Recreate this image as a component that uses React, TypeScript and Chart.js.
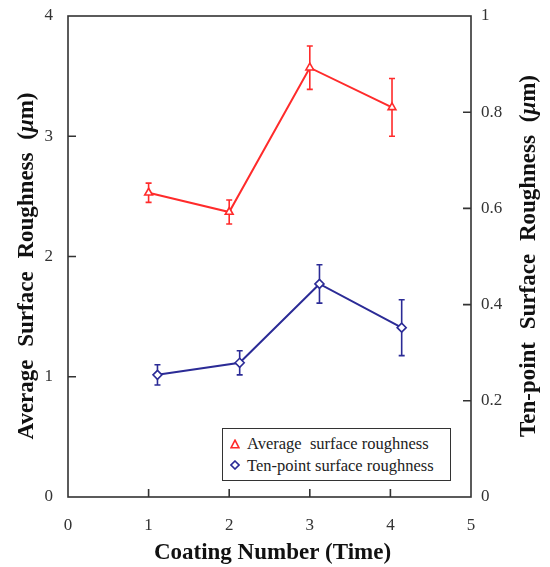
import React, { useEffect, useRef } from "react";
import { Chart, registerables } from "chart.js";

Chart.register(...registerables);

// ---- data ----
const avgX = [1.0, 2.0, 3.0, 4.02];
const avgY = [2.53, 2.37, 3.57, 3.24];
const avgErr = [0.08, 0.1, 0.18, 0.24];

const tenX = [1.11, 2.13, 3.12, 4.14];
const tenY = [0.254, 0.279, 0.443, 0.352];
const tenErr = [0.021, 0.025, 0.04, 0.058];

const seriesLabels = ["Average  surface roughness", "Ten-point surface roughness"];
const xTitle = "Coating Number (Time)";
const leftTitle = ["Average Surface Roughness (", "\u03BC", "m)"];
const rightTitle = ["Ten-point Surface Roughness (", "\u03BC", "m)"];

const RED = "#ff2b2b";
const BLUE = "#2b2b96";
const AXIS = "#333333";
const FONT = "'Liberation Serif', 'DejaVu Serif', serif";

const errorBarPlugin = {
  id: "errorBars",
  beforeDatasetsDraw(chart: any) {
    const { ctx } = chart;
    chart.data.datasets.forEach((ds: any) => {
      const ys = chart.scales[ds.yAxisID];
      const xs = chart.scales.x;
      ctx.save();
      ctx.strokeStyle = ds.borderColor;
      ctx.lineWidth = 1.6;
      ds.data.forEach((p: any, j: number) => {
        const e = ds.errors[j];
        const px = xs.getPixelForValue(p.x);
        const top = ys.getPixelForValue(p.y + e);
        const bot = ys.getPixelForValue(p.y - e);
        const c = 3;
        ctx.beginPath();
        ctx.moveTo(px, top);
        ctx.lineTo(px, bot);
        ctx.moveTo(px - c, top);
        ctx.lineTo(px + c, top);
        ctx.moveTo(px - c, bot);
        ctx.lineTo(px + c, bot);
        ctx.stroke();
      });
      ctx.restore();
    });
  },
};

const framePlugin = {
  id: "frame",
  afterDraw(chart: any) {
    const { ctx, chartArea: a, scales } = chart;
    ctx.save();
    ctx.strokeStyle = AXIS;
    ctx.lineWidth = 1.6;
    ctx.strokeRect(a.left, a.top, a.right - a.left, a.bottom - a.top);
    const L = 8;
    ctx.beginPath();
    scales.x.ticks.forEach((t: any) => {
      if (t.value <= scales.x.min || t.value >= scales.x.max) return;
      const px = scales.x.getPixelForValue(t.value);
      ctx.moveTo(px, a.bottom);
      ctx.lineTo(px, a.bottom - L);
    });
    scales.y.ticks.forEach((t: any) => {
      if (t.value <= scales.y.min || t.value >= scales.y.max) return;
      const py = scales.y.getPixelForValue(t.value);
      ctx.moveTo(a.left, py);
      ctx.lineTo(a.left + L, py);
    });
    scales.y1.ticks.forEach((t: any) => {
      if (t.value <= scales.y1.min + 1e-9 || t.value >= scales.y1.max - 1e-9) return;
      const py = scales.y1.getPixelForValue(t.value);
      ctx.moveTo(a.right, py);
      ctx.lineTo(a.right - L, py);
    });
    ctx.stroke();
    ctx.restore();
  },
};

// draws a rotated (bottom-to-top) title made of parts, the middle part italic
function drawVerticalTitle(ctx: any, parts: string[], cx: number, cy: number, size: number, wordGap: number) {
  ctx.save();
  ctx.translate(cx, cy);
  ctx.rotate(-Math.PI / 2);
  ctx.fillStyle = "#111";
  ctx.textBaseline = "alphabetic";
  ctx.textAlign = "left";
  if ("wordSpacing" in ctx) ctx.wordSpacing = wordGap + "px";
  const fonts = [
    `bold ${size}px ${FONT}`,
    `italic bold ${size}px ${FONT}`,
    `bold ${size}px ${FONT}`,
  ];
  let total = 0;
  const widths = parts.map((p, i) => {
    ctx.font = fonts[i];
    const w = ctx.measureText(p).width;
    total += w;
    return w;
  });
  let x = -total / 2;
  parts.forEach((p, i) => {
    ctx.font = fonts[i];
    ctx.fillText(p, x, 0);
    x += widths[i];
  });
  ctx.restore();
}

const titlesPlugin = {
  id: "titles",
  afterDraw(chart: any) {
    const { ctx, chartArea: a } = chart;
    ctx.save();
    ctx.fillStyle = "#111";
    ctx.font = `bold 23px ${FONT}`;
    ctx.textAlign = "center";
    ctx.textBaseline = "alphabetic";
    ctx.fillText(xTitle, (a.left + a.right) / 2 + 3, 559);
    ctx.restore();
    drawVerticalTitle(ctx, leftTitle, 33, 266, 23, 7);
    drawVerticalTitle(ctx, rightTitle, 535, 256, 23, 7);
  },
};

function LegendMarker({ kind, color }: { kind: string; color: string }) {
  return (
    <svg width="10" height="10" style={{ display: "block" }}>
      {kind === "tri" ? (
        <polygon points="5,1.2 9,8.8 1,8.8" fill="white" stroke={color} strokeWidth="1.6" />
      ) : (
        <polygon points="5,1 9,5 5,9 1,5" fill="white" stroke={color} strokeWidth="1.6" />
      )}
    </svg>
  );
}

export default function App() {
  const ref = useRef<HTMLCanvasElement | null>(null);

  useEffect(() => {
    if (!ref.current) return;
    const tickFont = { family: FONT, size: 17 };
    const noPad = (s: any) => {
      s.paddingTop = 0;
      s.paddingBottom = 0;
      s.paddingLeft = 0;
      s.paddingRight = 0;
    };
    const chart = new Chart(ref.current, {
      type: "line",
      data: {
        datasets: [
          {
            label: seriesLabels[0],
            data: avgX.map((x, i) => ({ x, y: avgY[i] })),
            errors: avgErr,
            yAxisID: "y",
            borderColor: RED,
            backgroundColor: "#ffffff",
            borderWidth: 2,
            pointStyle: "triangle",
            pointRadius: 4.5,
            pointBorderWidth: 1.6,
            pointBackgroundColor: "#ffffff",
            pointBorderColor: RED,
            tension: 0,
          } as any,
          {
            label: seriesLabels[1],
            data: tenX.map((x, i) => ({ x, y: tenY[i] })),
            errors: tenErr,
            yAxisID: "y1",
            borderColor: BLUE,
            backgroundColor: "#ffffff",
            borderWidth: 2,
            pointStyle: "rectRot",
            pointRadius: 4.5,
            pointBorderWidth: 1.6,
            pointBackgroundColor: "#ffffff",
            pointBorderColor: BLUE,
            tension: 0,
          } as any,
        ],
      },
      options: {
        animation: false,
        responsive: true,
        maintainAspectRatio: false,
        layout: { padding: { top: 16, left: 0, right: 0, bottom: 0 } },
        plugins: { legend: { display: false }, tooltip: { enabled: false } },
        scales: {
          x: {
            type: "linear",
            min: 0,
            max: 5,
            grid: { display: false, drawTicks: false },
            border: { display: false },
            ticks: { stepSize: 1, color: AXIS, font: tickFont, padding: 18 },
            afterFit: (s: any) => {
              s.height = 70;
              noPad(s);
            },
          },
          y: {
            type: "linear",
            position: "left",
            min: 0,
            max: 4,
            grid: { display: false, drawTicks: false },
            border: { display: false },
            ticks: { stepSize: 1, color: AXIS, font: tickFont, padding: 15 },
            afterFit: (s: any) => {
              s.width = 68;
              noPad(s);
            },
          },
          y1: {
            type: "linear",
            position: "right",
            min: 0,
            max: 1,
            grid: { display: false, drawTicks: false },
            border: { display: false },
            ticks: {
              stepSize: 0.2,
              color: AXIS,
              font: tickFont,
              padding: 10,
              callback: (v: any) => String(Math.round(Number(v) * 10) / 10),
            },
            afterFit: (s: any) => {
              s.width = 79;
              noPad(s);
            },
          },
        },
      } as any,
      plugins: [errorBarPlugin, framePlugin, titlesPlugin],
    });
    return () => chart.destroy();
  }, []);

  return (
    <div style={{ position: "fixed", left: 0, top: 0, width: 550, height: 567, background: "#fff" }}>
      <canvas ref={ref} />
      <div
        style={{
          position: "absolute",
          left: 222,
          top: 428,
          width: 229,
          height: 53,
          boxSizing: "border-box",
          border: `1.6px solid ${AXIS}`,
          background: "#fff",
          fontFamily: FONT,
          fontSize: 16.5,
          color: "#222",
          padding: "4px 0 0 7px",
          lineHeight: "21.5px",
        }}
      >
        {seriesLabels.map((lab, i) => (
          <div key={lab} style={{ display: "flex", alignItems: "center", whiteSpace: "pre" }}>
            <span style={{ width: 17, display: "flex", alignItems: "center" }}>
              <LegendMarker kind={i === 0 ? "tri" : "dia"} color={i === 0 ? RED : BLUE} />
            </span>
            <span>{lab}</span>
          </div>
        ))}
      </div>
    </div>
  );
}
